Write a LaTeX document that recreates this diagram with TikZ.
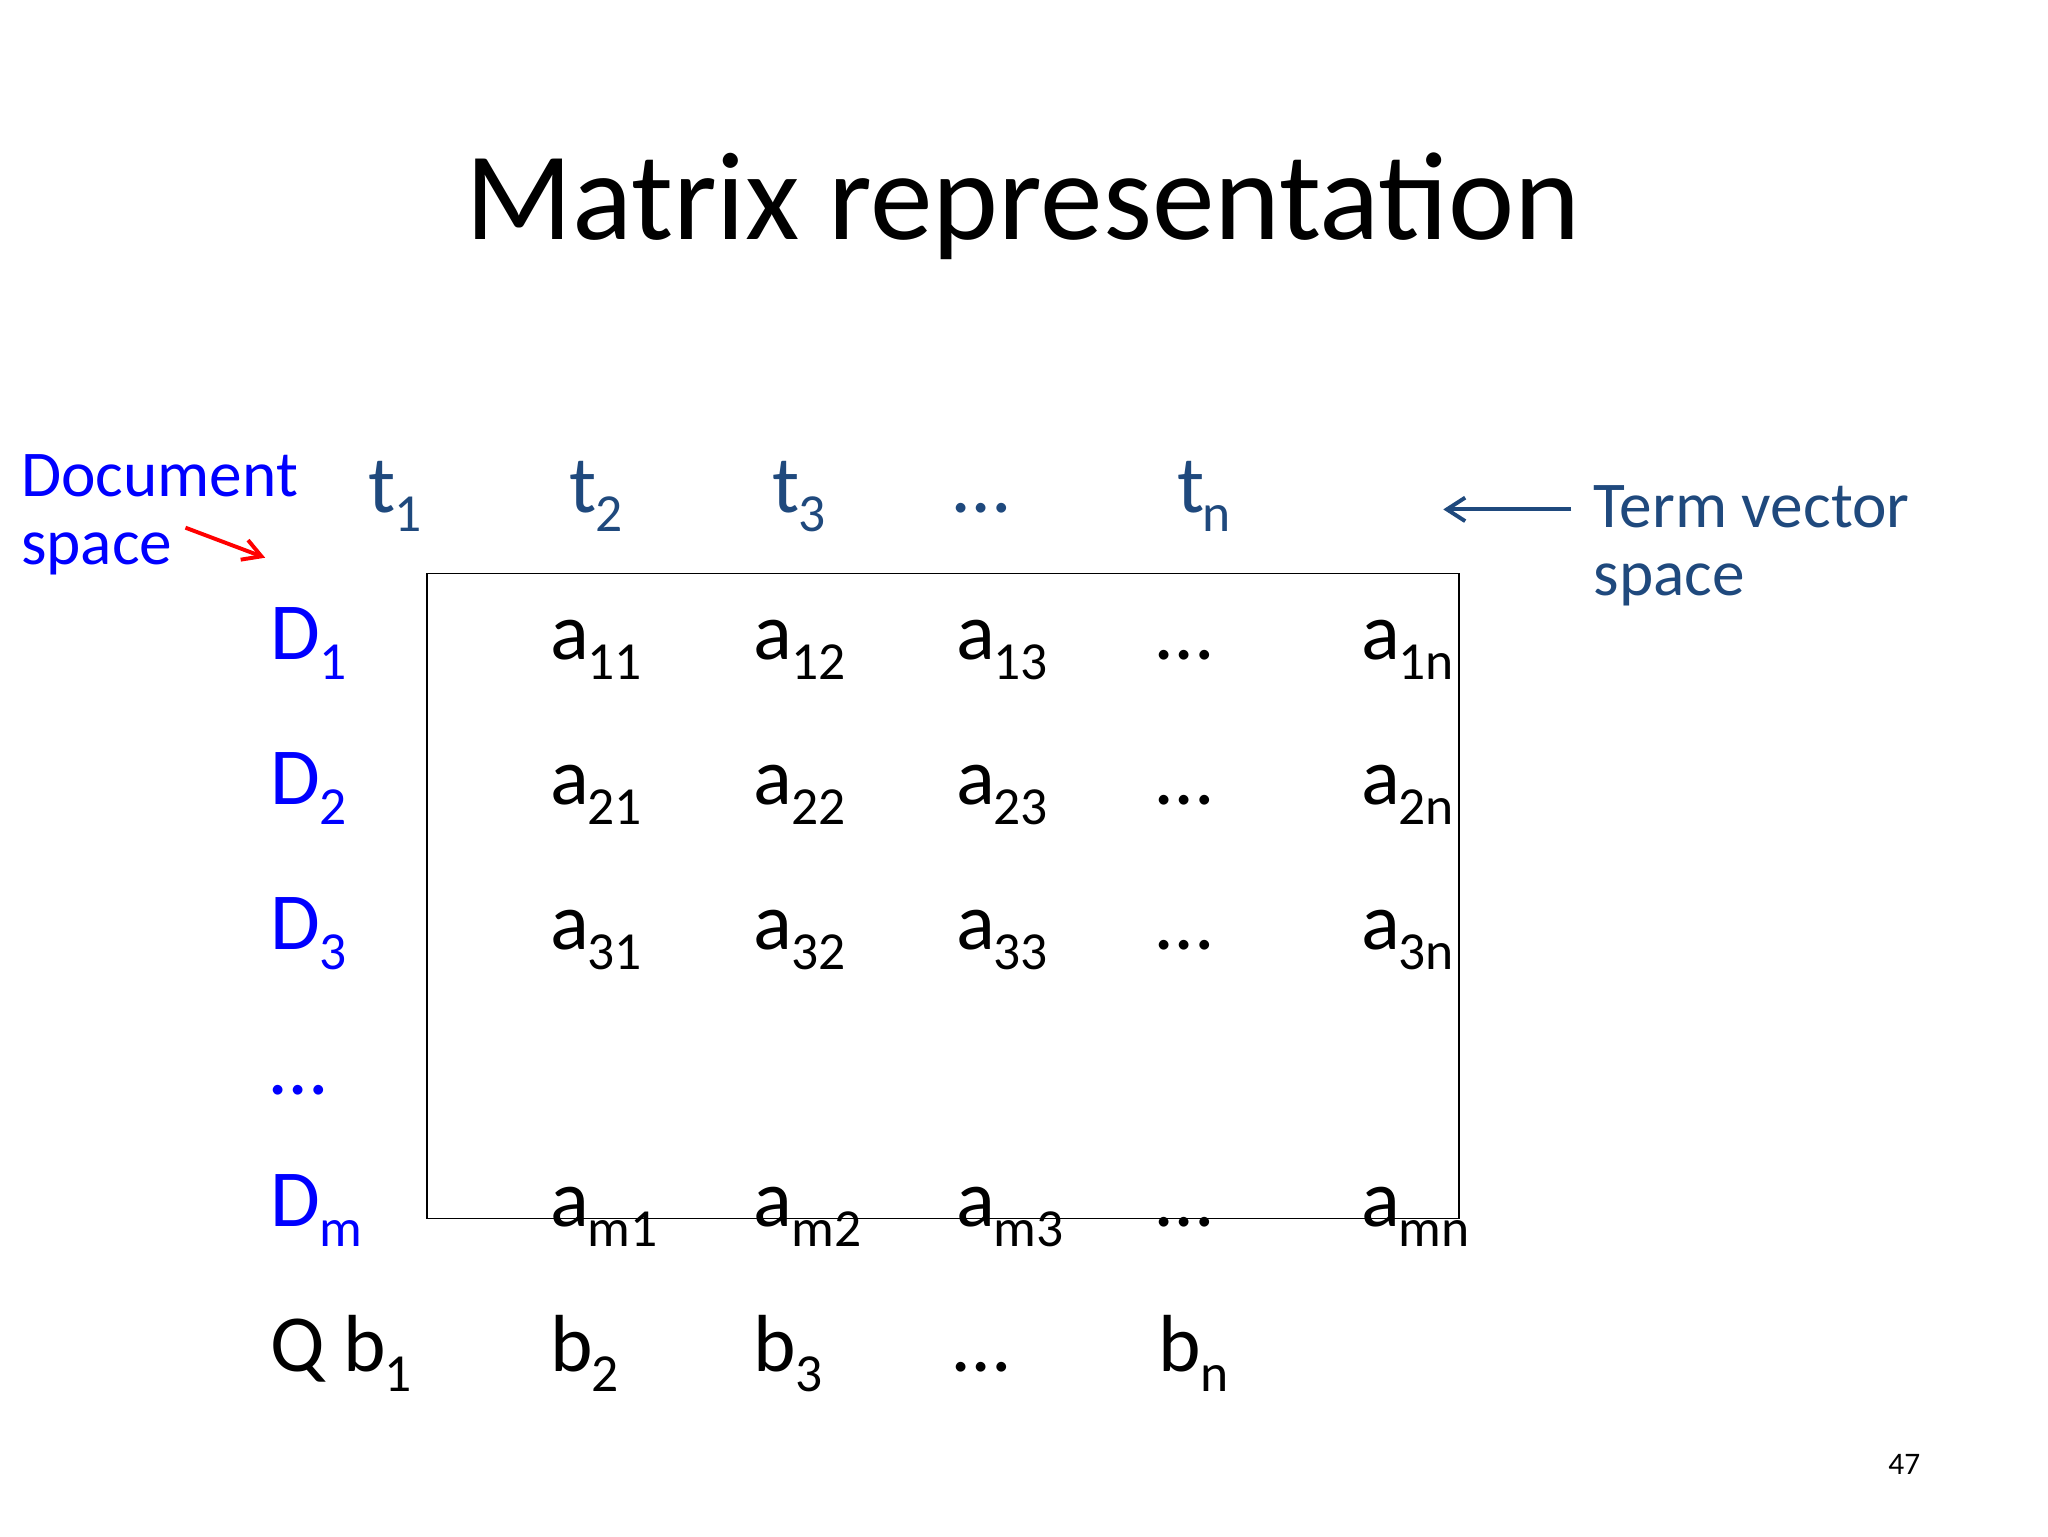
\documentclass[tikz,border=0pt]{standalone}
\usepackage{fontspec}
\setmainfont{Carlito}
\usetikzlibrary{arrows.meta}
\definecolor{tblue}{RGB}{31,73,125}
\newcommand\sbx[1]{\kern-1pt\raisebox{-15pt}{\fontsize{41}{43}\selectfont #1}}
\begin{document}
\begin{tikzpicture}[x=1pt,y=-1pt,
  big/.style={font=\fontsize{62}{64}\selectfont,inner sep=0pt,anchor=base west},
  dcol/.style={big,text=blue},
  tcol/.style={big,text=tblue},
  lab/.style={font=\fontsize{50}{56}\selectfont,inner sep=0pt,anchor=base west,align=left}]
\useasboundingbox (0,0) rectangle (1568,1176);
\node[font=\fontsize{96}{100}\selectfont,inner sep=0pt,anchor=base] (title) at (783,183) {Matrix representation};
\node[lab,text=blue] (ds1) at (16,380) {Document};
\node[lab,text=blue] (ds2) at (16,432) {space};
\coordinate (ra1) at (142,404); \coordinate (ra2) at (203,427);
\draw[red,line width=3pt,-{Straight Barb[length=14pt,width=16pt]}] (ra1) -- (ra2);
\node[tcol] (t1) at (282,392) {t\sbx{1}};
\node[tcol] (t2) at (436,392) {t\sbx{2}};
\node[tcol] (t3) at (591,392) {t\sbx{3}};
\node[tcol] (tdots) at (730,392) {…};
\node[tcol] (tn) at (901,392) {t\sbx{n}};
\coordinate (ta1) at (1203,390); \coordinate (ta2) at (1105,390);
\draw[tblue,line width=3pt,-{Straight Barb[length=14pt,width=18pt]}] (ta1) -- (ta2);
\node[lab,text=tblue] (tv1) at (1220,404) {Term vector};
\node[lab,text=tblue] (tv2) at (1220,456) {space};
\draw[line width=1.2pt] (327,439) rectangle (1117,933);
\foreach \r/\y in {1/505,2/616,3/727}{
  \node[dcol] (D\r) at (207,\y) {D\sbx{\r}};
  \node[big] (a\r1) at (421,\y) {a\sbx{\r1}};
  \node[big] (a\r2) at (577,\y) {a\sbx{\r2}};
  \node[big] (a\r3) at (732,\y) {a\sbx{\r3}};
  \node[big] (a\r4) at (885,\y) {…};
  \node[big] (a\r5) at (1042,\y) {a\sbx{\r n}};
}
\node[dcol] (Ddots) at (207,838) {…};
\node[dcol] (Dm) at (207,939) {D\sbx{m}};
\node[big] (am1) at (421,939) {a\sbx{m1}};
\node[big] (am2) at (577,939) {a\sbx{m2}};
\node[big] (am3) at (732,939) {a\sbx{m3}};
\node[big] (am4) at (885,939) {…};
\node[big] (am5) at (1042,939) {a\sbx{mn}};
\node[big] (Q) at (207,1050) {Q b\sbx{1}};
\node[big] (b2) at (421,1050) {b\sbx{2}};
\node[big] (b3) at (577,1050) {b\sbx{3}};
\node[big] (bd) at (730,1050) {…};
\node[big] (bn) at (887,1050) {b\sbx{n}};
\node[font=\fontsize{24}{28}\selectfont,inner sep=0pt,anchor=base] (pg) at (1458,1129) {47};
\end{tikzpicture}
\end{document}
